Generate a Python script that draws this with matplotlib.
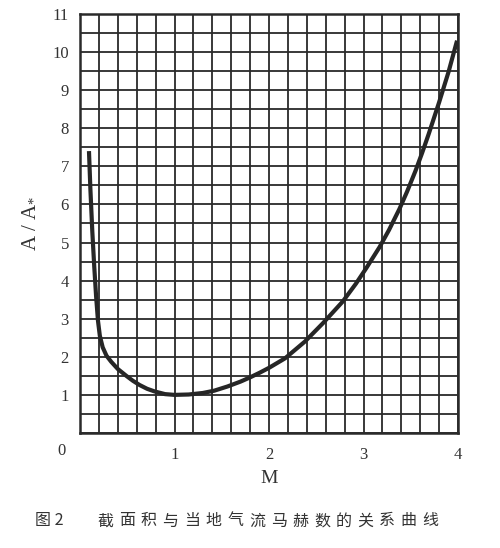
import numpy as np
import matplotlib
matplotlib.use("Agg")
import matplotlib.pyplot as plt
from matplotlib.ticker import MultipleLocator

######### Data #########

mach = [0.095, 0.11, 0.13, 0.15, 0.17, 0.19, 0.21, 0.24, 0.28, 0.33,
        0.40, 0.49, 0.56, 0.63, 0.71, 0.79, 0.90, 1.00, 1.15, 1.30,
        1.42, 1.56, 1.70, 1.80, 1.90, 2.00, 2.17, 2.38, 2.57, 2.78,
        2.92, 3.03, 3.17, 3.27, 3.38, 3.46, 3.55, 3.62, 3.69, 3.80,
        3.90, 3.99]
area_ratio = [7.40, 6.40, 5.30, 4.40, 3.60, 2.95, 2.55, 2.25, 2.03, 1.87,
              1.68, 1.50, 1.37, 1.26, 1.16, 1.09, 1.02, 1.00, 1.01, 1.05,
              1.11, 1.22, 1.35, 1.46, 1.58, 1.71, 1.96, 2.40, 2.88, 3.45,
              3.92, 4.33, 4.88, 5.33, 5.88, 6.33, 6.88, 7.35, 7.85, 8.68,
              9.48, 10.30]

x_ticks = [1, 2, 3, 4]
y_ticks = [1, 2, 3, 4, 5, 6, 7, 8, 9, 10, 11]
caption_head = "图 2"
caption_body = "截面积与当地气流马赫数的关系曲线"

######### Style #########

plt.rcParams['font.family'] = ['Liberation Serif', 'DejaVu Serif']
plt.rcParams['mathtext.fontset'] = 'custom'
plt.rcParams['mathtext.rm'] = 'Liberation Serif'
ink = '#2a2a2a'

fig = plt.figure(figsize=(5.0, 5.48), dpi=100)
ax = fig.add_axes([0.16, 0.2099, 0.756, 0.7646])

ax.set_xlim(0, 4)
ax.set_ylim(0, 11)

# grid: 0.2 in M, 0.5 in A/A*
ax.xaxis.set_minor_locator(MultipleLocator(0.2))
ax.yaxis.set_minor_locator(MultipleLocator(0.5))
ax.set_xticks(x_ticks)
ax.set_yticks(y_ticks)
ax.grid(True, which='both', color=ink, linewidth=1.3)
ax.set_axisbelow(True)
for s in ax.spines.values():
    s.set_color(ink)
    s.set_linewidth(1.8)

ax.tick_params(which='both', length=0, colors='#333333')
ax.tick_params(axis='x', labelsize=12, pad=10)
ax.tick_params(axis='y', labelsize=12, pad=8)

# the curve
ax.plot(mach, area_ratio, color='#262626', linewidth=3.0,
        solid_capstyle='butt', solid_joinstyle='round', zorder=3)

# origin label sits off the corner
ax.annotate('0', xy=(0, 0), xycoords='axes fraction', xytext=(-13, -19),
            textcoords='offset points', fontsize=12, color='#333333',
            ha='center', va='bottom')

ax.set_xlabel('M', fontsize=14, color='#333333', labelpad=5)
ax.set_ylabel('A / A$_{*}$', fontsize=15, color='#333333', labelpad=10)

######### Caption, characters spaced out like the print #########

cjk = ['Noto Sans CJK SC', 'DejaVu Sans']
fig.text(35 / 500, 1 - 521 / 548, caption_head, fontsize=11.5,
         family=cjk, color='#333333', va='center', ha='left')
x0 = 97
step = 21.7
for i, ch in enumerate(caption_body):
    fig.text((x0 + i * step) / 500, 1 - 521 / 548, ch, fontsize=11.5,
             family=cjk, color='#333333', va='center', ha='left')

fig.savefig('out.png', dpi=100, facecolor='white')
